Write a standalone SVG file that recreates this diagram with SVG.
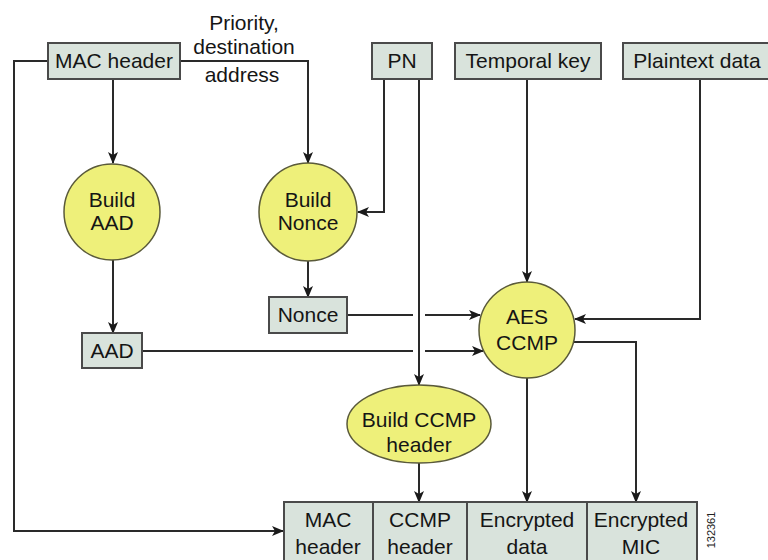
<svg xmlns="http://www.w3.org/2000/svg" width="768" height="560" viewBox="0 0 768 560">
<defs>
<marker id="arr" viewBox="0 0 12 10" refX="11" refY="5" markerWidth="12" markerHeight="10" markerUnits="userSpaceOnUse" orient="auto">
<path d="M0,0 L12,5 L0,10 L3,5 z" fill="#1a1a1a"/>
</marker>
<style>
.box{fill:#d9e3dc;stroke:#4a4a4a;stroke-width:2}
.proc{fill:#eef07a;stroke:#5a5a3a;stroke-width:1.5}
.t{font-family:"Liberation Sans",Arial,sans-serif;font-size:21px;fill:#151515;text-anchor:middle}
.c{fill:none;stroke:#2a2a2a;stroke-width:2}
.a{marker-end:url(#arr)}
</style>
</defs>
<rect width="768" height="560" fill="#ffffff"/>

<g id="connectors">
<path class="c a" d="M48,61 H14 V531 H283"/>
<path class="c a" d="M113,79 V163"/>
<path class="c a" d="M180,61 H308 V163"/>
<path class="c a" d="M384,79 V212 H358"/>
<path class="c a" d="M419,79 V385"/>
<path class="c a" d="M113,260 V333"/>
<path class="c a" d="M308,261 V297"/>
<path class="c a" d="M347,315 H413 M425,315 H480"/>
<path class="c a" d="M142,351 H413 M425,351 H483"/>
<path class="c a" d="M527,79 V282"/>
<path class="c a" d="M700,79 V319 H575"/>
<path class="c a" d="M573,342 H636 V502"/>
<path class="c a" d="M527,378 V502"/>
<path class="c a" d="M419,463 V502"/>
</g>

<g id="mac-header">
<rect class="box" x="48" y="43" width="132" height="36"/>
<text class="t" x="114" y="68">MAC header</text>
</g>
<g id="priority-label">
<text class="t" x="244" y="30">Priority,</text>
<text class="t" x="244" y="54">destination</text>
<text class="t" x="242" y="82">address</text>
</g>
<g id="pn">
<rect class="box" x="372" y="43" width="60" height="36"/>
<text class="t" x="402" y="68">PN</text>
</g>
<g id="temporal-key">
<rect class="box" x="455" y="43" width="146" height="36"/>
<text class="t" x="528" y="68">Temporal key</text>
</g>
<g id="plaintext-data">
<rect class="box" x="623" y="43" width="146" height="36"/>
<text class="t" x="697" y="68">Plaintext data</text>
</g>
<g id="build-aad">
<circle class="proc" cx="112" cy="212" r="48"/>
<text class="t" x="112" y="207">Build</text>
<text class="t" x="112" y="230">AAD</text>
</g>
<g id="build-nonce">
<circle class="proc" cx="308" cy="212" r="49"/>
<text class="t" x="308" y="207">Build</text>
<text class="t" x="308" y="230">Nonce</text>
</g>
<g id="nonce">
<rect class="box" x="269" y="297" width="78" height="36"/>
<text class="t" x="308" y="322">Nonce</text>
</g>
<g id="aad">
<rect class="box" x="82" y="333" width="60" height="35"/>
<text class="t" x="112" y="358">AAD</text>
</g>
<g id="aes-ccmp">
<circle class="proc" cx="527" cy="330" r="48"/>
<text class="t" x="527" y="324">AES</text>
<text class="t" x="527" y="350">CCMP</text>
</g>
<g id="build-ccmp-header">
<ellipse class="proc" cx="419" cy="424" rx="72" ry="39"/>
<text class="t" x="419" y="427">Build CCMP</text>
<text class="t" x="419" y="452">header</text>
</g>
<g id="frame">
<rect class="box" x="284" y="502" width="413" height="62"/>
<line x1="373" y1="502" x2="373" y2="564" stroke="#4a4a4a" stroke-width="2"/>
<line x1="467" y1="502" x2="467" y2="564" stroke="#4a4a4a" stroke-width="2"/>
<line x1="587" y1="502" x2="587" y2="564" stroke="#4a4a4a" stroke-width="2"/>
<text class="t" x="328" y="527">MAC</text>
<text class="t" x="328" y="554">header</text>
<text class="t" x="420" y="527">CCMP</text>
<text class="t" x="420" y="554">header</text>
<text class="t" x="527" y="527">Encrypted</text>
<text class="t" x="527" y="554">data</text>
<text class="t" x="641" y="527">Encrypted</text>
<text class="t" x="641" y="554">MIC</text>
</g>
<g id="figure-number">
<text x="0" y="0" transform="translate(715,530) rotate(-90)" font-family="Liberation Sans, Arial, sans-serif" font-size="11" fill="#222" text-anchor="middle">132361</text>
</g>
</svg>
